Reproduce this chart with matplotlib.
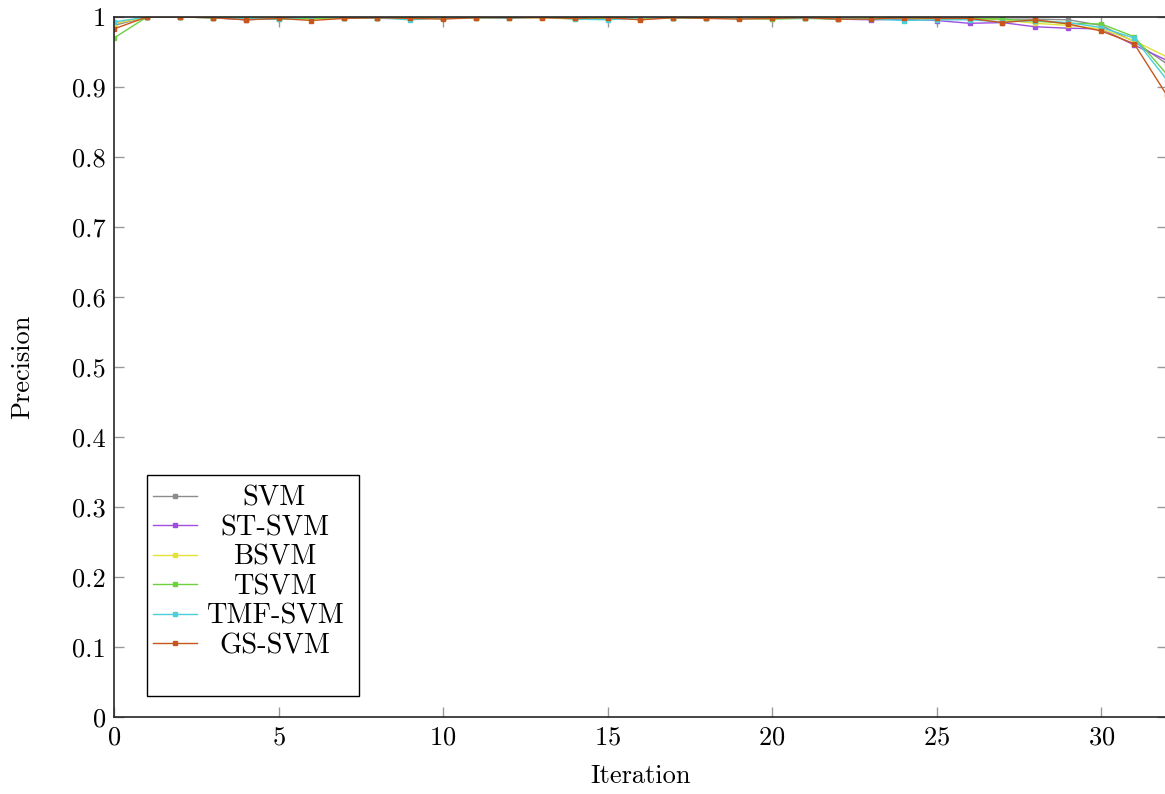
import numpy as np
import matplotlib
matplotlib.use('Agg')
import matplotlib.pyplot as plt
from matplotlib.ticker import FuncFormatter
from matplotlib.patches import Rectangle

plt.rcParams['font.family'] = ['cmr10', 'DejaVu Serif']
plt.rcParams['mathtext.fontset'] = 'cm'
plt.rcParams['axes.formatter.use_mathtext'] = True

iterations = list(range(33))

svm = [0.988, 1, 1, 1, 0.999, 1, 0.998, 1, 0.999, 0.999, 0.999, 1, 1, 1, 0.999, 1, 0.999,
       1, 0.999, 0.999, 1, 1, 0.999, 0.999, 0.999, 0.998, 0.998, 0.997, 0.997, 0.996, 0.988, 0.965, 0.933]
st_svm = [0.99, 1, 1, 0.999, 0.996, 0.998, 0.998, 0.999, 0.998, 0.998, 0.999, 1, 1, 1, 0.999, 0.998, 0.997,
          0.999, 0.999, 0.998, 0.998, 0.999, 0.997, 0.996, 0.997, 0.995, 0.991, 0.992, 0.986, 0.984, 0.983, 0.96, 0.938]
bsvm = [0.99, 1, 1, 0.999, 0.999, 0.998, 0.997, 0.999, 0.999, 0.998, 0.998, 0.999, 0.999, 0.999, 0.997, 0.999, 0.998,
        0.999, 0.998, 0.999, 0.998, 0.999, 0.998, 0.999, 0.998, 0.997, 0.998, 0.996, 0.991, 0.988, 0.983, 0.966, 0.943]
tsvm = [0.97, 1, 1, 0.999, 0.999, 0.997, 0.998, 0.999, 0.999, 0.999, 0.998, 0.999, 1, 1, 0.999, 0.998, 0.999,
        0.999, 0.999, 0.998, 0.997, 0.998, 0.997, 0.998, 0.998, 0.998, 0.998, 0.997, 0.994, 0.991, 0.99, 0.972, 0.918]
tmf_svm = [0.993, 1, 1, 0.999, 0.998, 0.997, 1, 0.999, 0.999, 0.996, 0.999, 0.999, 0.998, 1, 0.997, 0.996, 0.999,
           0.999, 0.998, 0.999, 0.998, 0.998, 0.998, 0.997, 0.995, 0.996, 0.996, 0.993, 0.995, 0.992, 0.985, 0.97, 0.91]
gs_svm = [0.983, 1, 1, 0.999, 0.996, 0.998, 0.995, 0.998, 0.999, 0.998, 0.997, 0.999, 0.999, 0.999, 0.998, 0.999, 0.996,
          0.999, 0.998, 0.997, 0.998, 0.999, 0.997, 0.997, 0.999, 0.998, 0.998, 0.992, 0.996, 0.99, 0.98, 0.962, 0.888]

labels = ['SVM', 'ST-SVM', 'BSVM', 'TSVM', 'TMF-SVM', 'GS-SVM']
series = [svm, st_svm, bsvm, tsvm, tmf_svm, gs_svm]
colors = ['#8c8c8c', '#a04ee0', '#e2e23a', '#6cd040', '#4ccfd8', '#c8561a']

fig = plt.figure(figsize=(11.65, 7.94), dpi=100)
ax = fig.add_axes([114 / 1165, 1 - 717 / 794, 1053 / 1165, 700 / 794])

for lab, ys, c in zip(labels, series, colors):
    ax.plot(iterations, ys, color=c, lw=1.0, marker='s', ms=3.5,
            markerfacecolor=c, markeredgecolor=c, label=lab)

ax.set_xlim(0, 32)
ax.set_ylim(0, 1)
ax.set_xticks([0, 5, 10, 15, 20, 25, 30])
ax.set_yticks(np.arange(0, 1.01, 0.1))
ax.yaxis.set_major_formatter(FuncFormatter(lambda v, p: '%g' % round(v, 1)))
ax.tick_params(direction='in', length=7, width=1.0, color='0.6',
               top=True, right=True, labelsize=19, pad=6)
for s in ax.spines.values():
    s.set_linewidth(1.2)
    s.set_color('0.15')

ax.set_xlabel('Iteration', fontsize=19, labelpad=11)
ax.set_ylabel('Precision', fontsize=19, labelpad=27)

# legend box drawn by hand so the padding matches pgfplots
x0, x1 = (147 - 114) / 1053, (359 - 114) / 1053
y0, y1 = (717 - 696) / 700, (717 - 475) / 700
ax.add_patch(Rectangle((x0, y0), x1 - x0, y1 - y0, transform=ax.transAxes,
                       facecolor='white', edgecolor='black', lw=1.0, zorder=4))
leg = ax.legend(loc='center', bbox_to_anchor=((x0 + x1) / 2 - 0.0046, (y0 + y1) / 2 + 0.019),
                borderaxespad=0, fontsize=20.5, frameon=False,
                handlelength=1.55, labelspacing=0.11, borderpad=0.0, handletextpad=0.3)
leg.set_zorder(5)

# centre the label texts in their column like pgfplots does
renderer = fig.canvas.get_renderer()
widths = [t.get_window_extent(renderer).width for t in leg.get_texts()]
wmax = max(widths)
for t, w in zip(leg.get_texts(), widths):
    t.set_x((wmax - w) / 2)

fig.savefig('out.png', dpi=100)
